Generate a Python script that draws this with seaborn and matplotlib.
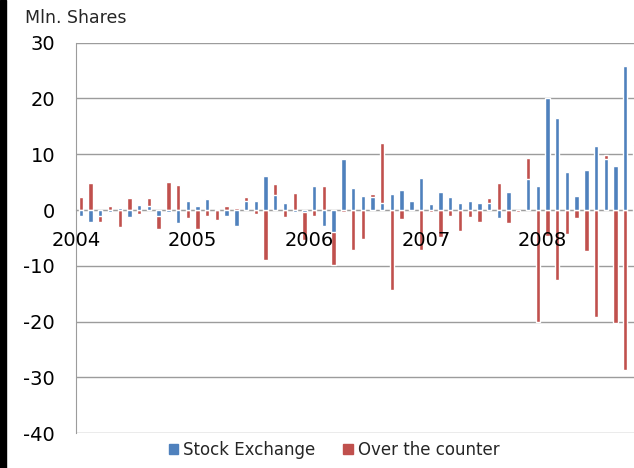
import numpy as np
import pandas as pd
import matplotlib
matplotlib.use("Agg")
import matplotlib.pyplot as plt
import seaborn as sns
from matplotlib.patches import Patch, Rectangle

# --- DATA (monthly net purchases, mln shares) ---
months = pd.date_range("2004-01-01", periods=58, freq="MS").strftime("%Y-%m").tolist()

stock_exchange = [
    -1.1, -2.2, -1.0, -0.4, 0.3, -1.3, 0.85, 0.8, -1.0, -0.3,
    -2.3, 1.7, 0.8, 1.9, 0.1, -1.1, -2.8, 1.6, 1.7, 6.1,
    2.7, 1.2, -0.3, -0.3, 4.3, -2.8, -4.0, 9.2, 4.0, 2.5,
    2.3, 1.3, 2.8, 3.5, 1.6, 5.7, 1.1, 3.3, 2.3, 1.3,
    1.6, 1.3, 1.3, -1.5, 3.2, 0.0, 5.5, 4.3, 20.0, 16.5,
    6.8, 2.5, 7.2, 11.4, 9.1, 7.9, 25.8, 11.6,
]
over_the_counter = [
    2.4, 4.9, -1.2, 0.7, -3.0, 2.2, -0.8, 1.4, -2.4, 5.0,
    4.4, -1.5, -3.4, -1.1, -1.8, 0.7, 0.4, 0.8, -0.8, -9.0,
    2.0, -1.2, 3.1, -5.0, -1.1, 4.3, -5.9, -0.4, -7.2, -5.2,
    0.6, 10.8, -14.4, -1.7, 0.2, -7.1, -0.4, -4.9, -1.0, -3.7,
    -1.3, -2.2, 0.8, 4.8, -2.4, -0.4, 3.8, -20.0, -4.6, -12.6,
    -4.3, -1.4, -7.3, -19.2, 0.8, -20.2, -28.7, -1.6,
]
year_labels = ["2004", "2005", "2006", "2007", "2008"]
series_names = ["Stock Exchange", "Over the counter"]

BLUE = "#4F81BD"
RED = "#C0504D"
GRID = "#9c9c9c"

# Excel-style stacking: red sits on top of blue when both share a sign
se = np.array(stock_exchange)
otc = np.array(over_the_counter)
same_sign = np.sign(se) == np.sign(otc)
otc_top = np.where(same_sign, se + otc, otc)

df = pd.DataFrame({"month": months, "se": se, "otc_top": otc_top})

sns.set_style("white")
plt.rcParams["font.family"] = ["DejaVu Sans"]
plt.rcParams["axes.unicode_minus"] = False

W, H = 634, 468
fig = plt.figure(figsize=(W / 100, H / 100), dpi=100)
ax = fig.add_axes([76 / W, (H - 433.1) / H, 563.8 / W, 390.4 / H])

sns.barplot(data=df, x="month", y="otc_top", color=RED, width=0.45,
            saturation=1, errorbar=None, ax=ax, zorder=2)
sns.barplot(data=df, x="month", y="se", color=BLUE, width=0.45,
            saturation=1, errorbar=None, ax=ax, zorder=3)

ax.set_xlim(-0.5, len(months) - 0.5)
ax.set_ylim(-40, 30)
ax.set_yticks(range(-40, 31, 10))
ax.yaxis.grid(True, color=GRID, lw=1)
ax.set_axisbelow(True)

ax.set_xticks([-0.5, 11.5, 23.5, 35.5, 47.5])
ax.set_xticklabels(year_labels)
ax.set_xlabel("")
ax.set_ylabel("")
# year labels sit on top of the bars, as in the original
ax.xaxis.set_zorder(4)

for s in ["top", "right"]:
    ax.spines[s].set_visible(False)
ax.spines["left"].set_color(GRID)
ax.spines["bottom"].set_color(GRID)
ax.spines["bottom"].set_position(("data", 0))
ax.spines["bottom"].set_zorder(1.5)

ax.tick_params(axis="x", direction="out", length=3, color=GRID, pad=12,
               labelsize=14, labelcolor="black")
ax.tick_params(axis="y", direction="out", length=6, color=GRID, pad=9,
               labelsize=14, labelcolor="black")

fig.text(25 / W, 1 - 9 / H, "Mln. Shares", fontsize=12.5, va="top", ha="left")

handles = [Patch(color=BLUE), Patch(color=RED)]
fig.legend(handles, series_names, loc="lower center", ncol=2,
           bbox_to_anchor=(334 / W, 1 / H), frameon=False, fontsize=12,
           handlelength=0.55, handleheight=0.55, handletextpad=0.3,
           columnspacing=1.7, borderpad=0)

# dark strip down the left edge of the original image
fig.patches.append(Rectangle((0, 0), 6 / W, 1, transform=fig.transFigure,
                             color="black", zorder=10))

fig.savefig("out.png", dpi=100)
